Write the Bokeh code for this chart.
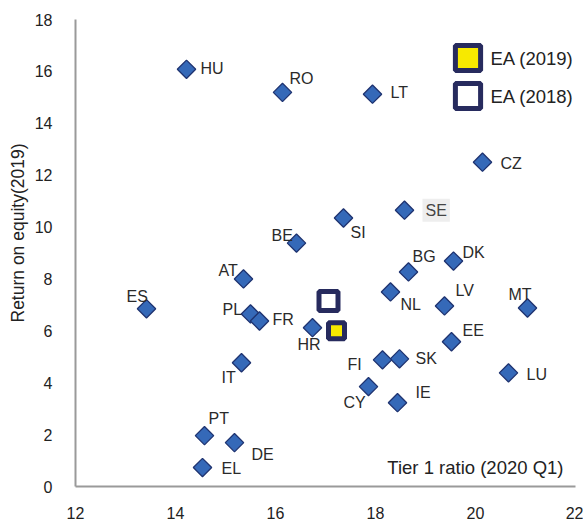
import math
from bokeh.plotting import figure
from bokeh.models import ColumnDataSource, FixedTicker, Label, Legend, LegendItem, Title
from bokeh.core.properties import value
from bokeh.embed import file_html
from bokeh.resources import INLINE

# ---- data ----
countries = ["HU", "RO", "LT", "CZ", "SE", "SI", "BE", "BG", "DK", "NL", "LV", "MT", "EE", "SK",
             "FI", "LU", "CY", "IE", "AT", "ES", "PL", "FR", "HR", "IT", "PT", "DE", "EL"]
tier1 = [14.22, 16.14, 17.94, 20.14, 18.58, 17.36, 16.42, 18.66, 19.56, 18.30, 19.38, 21.04, 19.52, 18.48,
         18.14, 20.66, 17.86, 18.44, 15.36, 13.42, 15.50, 15.68, 16.74, 15.32, 14.58, 15.18, 14.54]
roe = [16.08, 15.19, 15.12, 12.50, 10.65, 10.35, 9.38, 8.27, 8.69, 7.50, 6.96, 6.88, 5.58, 4.92,
       4.88, 4.38, 3.85, 3.23, 8.00, 6.85, 6.65, 6.38, 6.12, 4.77, 1.96, 1.69, 0.73]
highlighted = ["SE"]

ea_labels = ["EA (2019)", "EA (2018)"]
ea_tier1 = [17.22, 17.06]
ea_roe = [6.00, 7.15]

x_ticks = [12, 14, 16, 18, 20, 22]
y_ticks = [0, 2, 4, 6, 8, 10, 12, 14, 16, 18]
x_title = "Tier 1 ratio (2020 Q1)"
y_title = "Return on equity(2019)"

# ---- label placement (screen px, style only) ----
label_dx = [14, 7, 18, 18, 18, 7, -25, 4, 9, 10, 11, -19, 11, 16,
            -35, 18, -25, 18, -25, -20, -28, 13, -15, -20, 4, 17, 19]
label_dy = [-1, -14, -2, 1, 0, 15, -8, -15, -9, 13, -15, -14, -11, 0,
            5, 2, 16, -10, -8, -12, -4, -1, 17, 15, -17, 12, 1]

FONT = "Liberation Sans"
DIAMOND_FILL = "#3569B8"
DIAMOND_LINE = "#1F3370"
NAVY = "#272B5E"
YELLOW = "#F7E900"

p = figure(width=583, height=521, x_range=(12, 22), y_range=(0, 18),
           output_backend="svg", toolbar_location=None,
           min_border_left=75, min_border_right=8, min_border_top=19, min_border_bottom=34)
p.outline_line_color = None
p.xgrid.visible = False
p.ygrid.visible = False
p.background_fill_color = "white"

for ax in (p.xaxis[0], p.yaxis[0]):
    ax.axis_line_color = "#9a9a9a"
    ax.axis_line_width = 2
    ax.major_tick_line_color = None
    ax.minor_tick_line_color = None
    ax.major_label_text_font = FONT
    ax.major_label_text_font_size = "16px"
    ax.major_label_text_color = "#222222"
p.xaxis.ticker = FixedTicker(ticks=x_ticks)
p.yaxis.ticker = FixedTicker(ticks=y_ticks)
p.xaxis.major_label_standoff = 14
p.yaxis.major_label_standoff = 17

src_all = ColumnDataSource(dict(x=tier1, y=roe, name=countries, dx=label_dx, dy=label_dy))
idx_n = [i for i, c in enumerate(countries) if c not in highlighted]
idx_h = [i for i, c in enumerate(countries) if c in highlighted]
src_n = ColumnDataSource(dict(x=[tier1[i] for i in idx_n], y=[roe[i] for i in idx_n],
                              name=[countries[i] for i in idx_n],
                              dx=[label_dx[i] for i in idx_n], dy=[label_dy[i] for i in idx_n]))
src_h = ColumnDataSource(dict(x=[tier1[i] for i in idx_h], y=[roe[i] for i in idx_h],
                              name=[countries[i] for i in idx_h],
                              dx=[label_dx[i] for i in idx_h], dy=[label_dy[i] for i in idx_h]))

p.scatter("x", "y", source=src_all, marker="square", angle=math.pi / 4, size=13,
          fill_color=DIAMOND_FILL, line_color=DIAMOND_LINE, line_width=1.3)

p.text("x", "y", text="name", source=src_n, x_offset="dx", y_offset="dy",
       text_font=value(FONT), text_font_size="16px", text_color="#2a2a2a",
       text_align="left", text_baseline="middle")
p.text("x", "y", text="name", source=src_h, x_offset="dx", y_offset="dy",
       text_font=value(FONT), text_font_size="16px", text_color="#444444",
       text_align="left", text_baseline="middle",
       background_fill_color="#eeeeee", padding=3)

r19 = p.scatter(x=[ea_tier1[0]], y=[ea_roe[0]], marker="square", size=16,
                fill_color=YELLOW, line_color=NAVY, line_width=5)
r18 = p.scatter(x=[ea_tier1[1]], y=[ea_roe[1]], marker="square", size=19,
                fill_color="white", line_color=NAVY, line_width=5)

# legend keys (glyphs) via Legend; their texts as labels placed next to the keys
for k, r in enumerate((r19, r18)):
    leg = Legend(items=[LegendItem(label=" ", renderers=[r])],
                 location=(360.5, 397.5 - 38 * k), glyph_width=63, glyph_height=63,
                 label_standoff=0, padding=0, margin=0, spacing=0,
                 border_line_color=None, background_fill_alpha=0,
                 label_text_font=FONT, label_text_font_size="10px")
    p.add_layout(leg)
    p.add_layout(Label(x=20.3, y=16.5 - 1.46 * k, text=ea_labels[k], text_align="left",
                       text_baseline="middle", text_font=FONT, text_font_size="18.5px",
                       text_color="#222222"))

p.add_layout(Label(x=22, y=0.73, x_offset=-12, text=x_title, text_align="right",
                   text_baseline="middle", text_font=FONT, text_font_size="18.5px",
                   text_color="#222222"))

p.add_layout(Title(text=y_title, align="left", offset=164, standoff=8,
                   text_font=FONT, text_font_size="17.5px", text_font_style="normal",
                   text_color="#222222"), "left")

open("out.html", "w").write(file_html(p, INLINE))
